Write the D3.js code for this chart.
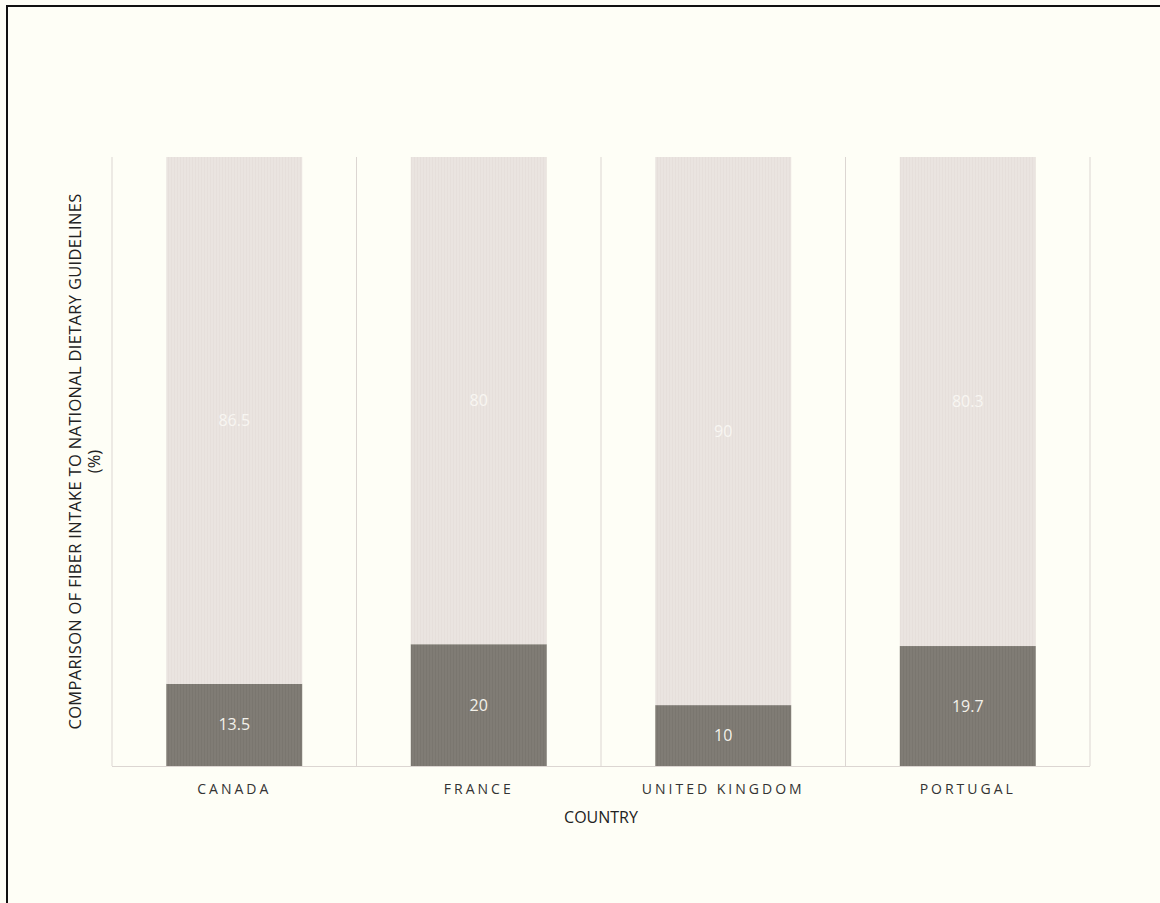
<!DOCTYPE html>
<html><head><meta charset="utf-8">
<script src="https://cdn.jsdelivr.net/npm/d3@7"></script>
<style>
html,body{margin:0;padding:0;background:#fefef6;}
svg{display:block;font-family:"Open Sans",sans-serif;}
</style></head>
<body>
<svg id="chart" width="1160" height="903"></svg>
<script>
const categories = ["CANADA", "FRANCE", "UNITED KINGDOM", "PORTUGAL"];
const metValues = [13.5, 20, 10, 19.7];
const notMetValues = [86.5, 80, 90, 80.3];
const yDomain = [0, 100];

const svg = d3.select("#chart");
const W = 1160, H = 903;
const m = {left: 112, right: 70, top: 157, bottom: 137};
const x0 = m.left, x1 = W - m.right, yTop = m.top, yBot = H - m.bottom;

svg.append("rect").attr("x", 0).attr("y", 0).attr("width", W).attr("height", H).attr("fill", "#fefef6");
svg.append("rect").attr("x", 7).attr("y", 6).attr("width", W + 20).attr("height", H + 20)
  .attr("fill", "none").attr("stroke", "#111").attr("stroke-width", 2);

const x = d3.scaleBand().domain(categories).range([x0, x1]).paddingInner(0.444).paddingOuter(0.222);
const y = d3.scaleLinear().domain(yDomain).range([yBot, yTop]);

const defs = svg.append("defs");
const p1 = defs.append("pattern").attr("id", "pl").attr("width", 3).attr("height", 3).attr("patternUnits", "userSpaceOnUse");
p1.append("rect").attr("width", 3).attr("height", 3).attr("fill", "#eae4e0");
p1.append("rect").attr("width", 1).attr("height", 3).attr("fill", "#e6dfdb");
const p2 = defs.append("pattern").attr("id", "pd").attr("width", 3).attr("height", 3).attr("patternUnits", "userSpaceOnUse");
p2.append("rect").attr("width", 3).attr("height", 3).attr("fill", "#807c75");
p2.append("rect").attr("width", 1).attr("height", 3).attr("fill", "#7a766f");

const seps = d3.range(categories.length + 1).map(i => x0 + i * (x1 - x0) / categories.length);
svg.append("g").selectAll("line").data(seps).join("line")
  .attr("x1", d => d).attr("x2", d => d).attr("y1", yTop).attr("y2", yBot)
  .attr("stroke", "#dcd6d2").attr("stroke-width", 1);

svg.append("line").attr("x1", x0).attr("x2", x1).attr("y1", yBot + 0.5).attr("y2", yBot + 0.5)
  .attr("stroke", "#dcd6d2").attr("stroke-width", 1);

const data = categories.map((c, i) => ({c, met: metValues[i], not: notMetValues[i]}));

const g = svg.append("g");
g.selectAll(".met").data(data).join("rect")
  .attr("x", d => x(d.c)).attr("width", x.bandwidth())
  .attr("y", d => y(d.met)).attr("height", d => y(0) - y(d.met))
  .attr("fill", "url(#pd)");
g.selectAll(".not").data(data).join("rect")
  .attr("x", d => x(d.c)).attr("width", x.bandwidth())
  .attr("y", d => y(d.met + d.not)).attr("height", d => y(d.met) - y(d.met + d.not))
  .attr("fill", "url(#pl)");

g.selectAll(".lm").data(data).join("text")
  .attr("x", d => x(d.c) + x.bandwidth() / 2).attr("y", d => (y(0) + y(d.met)) / 2)
  .attr("dy", "0.35em").attr("text-anchor", "middle")
  .attr("fill", "#f3f1ea").attr("font-size", 16).text(d => d.met);
g.selectAll(".ln").data(data).join("text")
  .attr("x", d => x(d.c) + x.bandwidth() / 2).attr("y", d => (y(d.met) + y(d.met + d.not)) / 2)
  .attr("dy", "0.35em").attr("text-anchor", "middle")
  .attr("fill", "#f8f6f2").attr("font-size", 16).text(d => d.not);

const xAxis = d3.axisBottom(x).tickSize(0).tickPadding(18);
const ax = svg.append("g").attr("transform", `translate(0,${yBot})`).call(xAxis);
ax.select(".domain").remove();
ax.selectAll("text").attr("font-family", "Open Sans, sans-serif").attr("font-size", 14)
  .attr("fill", "#333").attr("letter-spacing", "3px");

svg.append("text").attr("x", (x0 + x1) / 2).attr("y", 823).attr("text-anchor", "middle")
  .attr("font-size", 16).attr("fill", "#222").text("COUNTRY");

const yt = svg.append("text").attr("transform", `translate(81,${(yTop + yBot) / 2}) rotate(-90)`)
  .attr("text-anchor", "middle").attr("font-size", 16.5).attr("fill", "#222");
yt.append("tspan").attr("x", 0).attr("y", 0).attr("letter-spacing", "0.3px").text("COMPARISON OF FIBER INTAKE TO NATIONAL DIETARY GUIDELINES");
yt.append("tspan").attr("x", 0).attr("y", 19).text("(%)");
</script>
</body></html>
